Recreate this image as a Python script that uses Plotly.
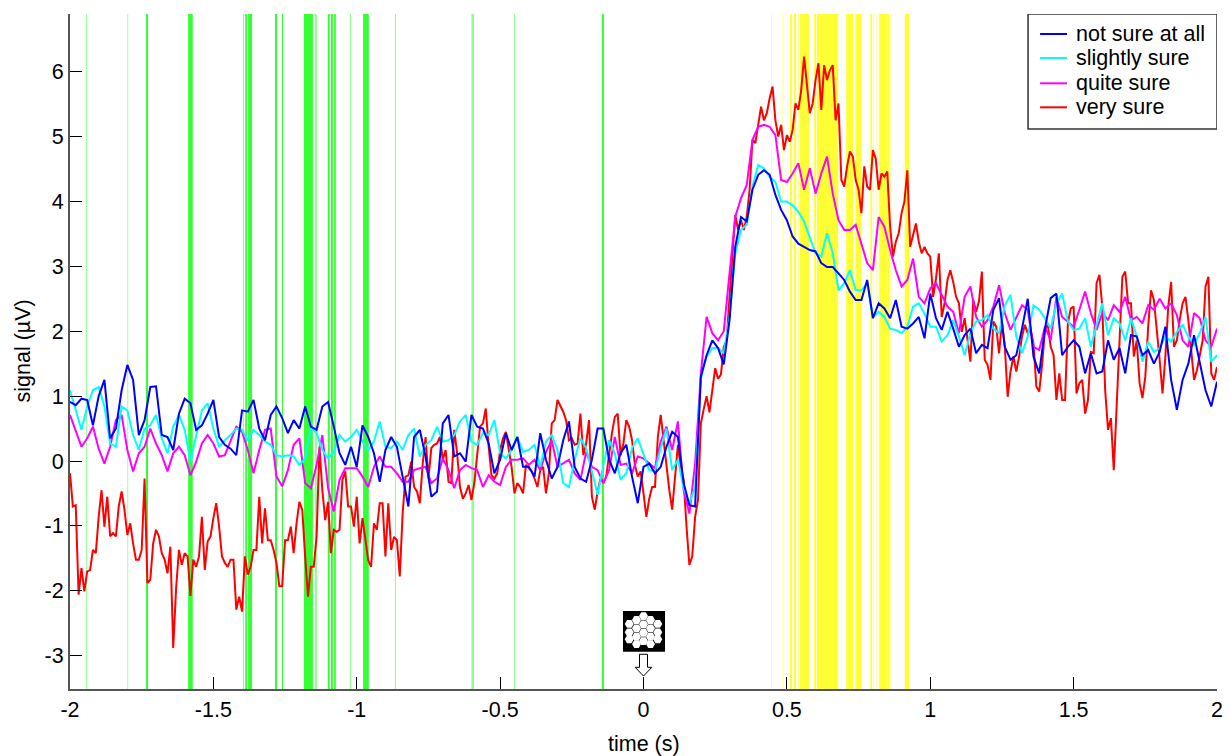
import numpy as np
import plotly.graph_objects as go

not_sure = [.91,.86,.96,.94,.55,1.0,1.25,.35,.5,1.09,1.48,1.25,.4,.63,1.14,1.15,.4,.37,.17,.73,.96,.89,.48,.55,.73,.94,.37,.25,.19,.09,.78,.76,.94,.5,.32,.71,.84,.66,.43,.63,.5,.84,.53,.48,.84,.91,.53,.12,-.06,.22,-.09,
 .55,.37,.12,-.32,.17,.37,.22,-.24,-.7,.37,.48,.07,-.55,-.47,.58,.71,.07,.12,-.01,.71,.53,.5,.27,-.19,.02,.43,.17,.37,-.09,-.09,-.24,.43,.02,-.27,-.09,.32,.61,-.09,-.27,-.32,.02,.5,.5,.02,-.19,.12,.25,-.24,-.65,-.09,-.04,-.19,-.09,.22,.45,.37,-.34,-.68,-.7,
 1.30,1.63,1.86,1.74,1.49,2.17,3.30,3.76,3.69,4.18,4.41,4.48,4.41,4.1,3.87,3.71,3.46,3.35,3.3,3.25,3.23,3.05,2.99,2.99,2.89,2.79,2.61,2.48,2.48,2.79,2.2,2.43,2.35,2.2,2.48,2.07,2.04,2.12,2.22,1.89,2.58,2.2,2.02,2.3,
 2.04,1.76,1.94,2.04,1.66,1.79,1.74,2.33,2.51,1.76,1.56,1.63,2.04,2.5,1.61,1.35,2.04,2.51,2.58,1.63,1.76,1.86,1.76,1.35,1.66,1.35,1.38,1.86,1.56,1.74,1.35,1.94,1.92,1.63,1.71,1.5,1.68,2.07,1.25,.79,1.25,1.5,1.94,1.5,1.09,.84,1.22]

slightly_sure = [1.09,.78,.48,.84,1.09,1.14,.84,.27,.22,.84,.78,.4,.17,.5,.55,.71,.35,.12,.53,.71,.48,-.01,.37,.78,.89,.5,.22,.32,.4,.5,.48,.32,.48,.4,.3,.25,.09,.07,.09,.07,-.06,.04,.53,.43,.17,.04,.14,.4,.3,.37,.48,
 .3,.17,.3,.61,.22,.2,.3,.17,.4,.5,.07,.25,.32,.53,.3,.32,.4,.61,.71,.3,.25,.43,.4,.63,.12,.04,.17,.37,.14,.17,.25,-.09,.3,.4,.17,-.34,-.4,.02,.35,.2,-.14,-.52,-.06,.32,.12,-.29,-.19,.2,.35,.12,-.14,-.16,.2,.5,-.14,.02,-.42,-.65,-.4,
 1.27,1.61,1.74,1.74,1.66,2.22,3.2,3.56,3.64,4.23,4.56,4.51,4.38,4.3,4.0,4.0,3.94,3.84,3.69,3.46,3.2,3.15,3.51,3.2,2.63,2.74,2.94,2.63,2.63,2.74,2.22,2.3,2.22,2.04,2.02,1.97,2.07,2.38,2.43,2.27,2.07,2.07,1.84,1.94,
 2.17,1.92,1.63,1.97,2.15,2.17,2.25,2.04,1.97,2.4,2.56,1.92,1.66,1.92,2.4,2.33,2.2,2.04,2.43,2.58,2.15,2.02,2.04,2.2,1.76,2.1,2.43,1.94,2.2,2.12,1.86,2.2,1.92,1.53,1.84,1.68,1.74,1.92,1.84,1.99,2.1,1.92,1.79,1.97,2.22,1.53,1.63]

quite_sure = [.71,.48,.22,.35,.53,.19,-.04,.22,.63,.71,.17,-.16,.12,.22,.5,.27,.09,-.16,.12,.22,.09,-.22,-.01,.27,.4,.27,.07,.09,.32,.53,.45,.17,-.19,.17,.48,.5,-.24,-.39,-.14,.25,.35,-.34,-.42,-.06,.4,-.42,-.78,-.29,-.11,-.11,-.11,
 -.24,-.4,-.09,.07,-.09,-.09,-.19,-.32,-.32,-.14,-.11,-.09,-.34,-.27,.04,-.14,-.42,-.14,-.06,-.11,-.14,-.4,-.22,-.32,-.37,-.09,.02,.02,.04,-.06,.02,-.14,.14,.32,-.09,-.04,.02,-.19,-.29,.14,-.09,-.14,-.34,-.14,.37,-.06,-.04,-.19,.07,.04,-.04,-.11,.3,.53,.17,.61,-.45,-.81,-.04,
 1.35,2.22,1.97,1.86,2.0,2.89,3.76,4.05,4.25,4.95,5.15,5.18,5.15,5.02,4.33,4.3,4.43,4.59,4.18,4.51,4.12,4.43,4.69,4.12,3.71,3.56,3.56,3.64,3.35,3.05,2.94,3.76,3.61,3.25,2.94,2.69,2.79,3.12,2.53,2.43,2.66,2.74,2.56,2.38,
 2.3,1.97,2.53,2.69,2.22,2.07,2.17,2.38,2.71,2.28,2.02,2.22,2.4,2.33,1.76,1.71,2.07,1.86,2.53,2.22,2.15,2.07,2.33,2.61,2.28,2.02,2.28,2.17,2.4,2.3,2.53,2.17,2.22,2.12,2.4,2.33,2.5,2.35,2.43,2.25,1.86,1.76,2.28,2.2,1.86,1.76,2.04]

very_sure = [-.19,-.7,-.68,-2.06,-1.65,-2.01,-1.7,-1.68,-1.37,-1.42,-.86,-.45,-1.01,-.55,-1.16,-1.11,-1.16,-.7,-.47,-.75,-1.14,-.96,-1.27,-1.52,-1.52,-1.37,-.27,-1.88,-1.83,-1.27,-1.06,-1.16,-1.42,-1.52,-1.73,-1.32,-2.88,-1.96,-1.37,-1.6,-1.42,-1.47,-2.08,-1.52,-1.63,-1.47,-.86,-1.68,-1.24,-1.16,-.88,-.65,-1.01,-1.47,-1.57,-1.63,-1.52,-1.52,-2.29,-2.09,-2.32,-1.47,-1.75,-1.63,-1.37,-1.37,-.55,-1.27,-.73,-1.22,-1.22,-1.37,-1.57,-1.93,-1.93,-1.22,-1.22,-1.01,-1.42,-.96,-.63,-.75,-1.47,-2.09,-1.63,-1.63,-1.16,.22,-.45,-.91,-.63,-1.42,-1.06,-1.09,-1.06,-.29,-.16,-.7,-.7,-1.01,-.55,
 -1.27,-.88,-1.19,-1.53,-1.63,-.96,-1.06,-.65,-.65,-1.47,-.65,-1.37,-1.17,-1.22,-1.78,-.81,-.24,-.22,-.01,-.4,-.47,-.65,-.04,.37,-.27,.2,.25,.27,.37,.02,.17,-.32,-.34,.48,.12,-.4,-.58,-.5,-.37,-.6,-.34,.12,.53,.58,.81,.22,-.22,-.27,-.19,.17,.35,.45,.2,-.09,-.5,-.34,-.4,-.5,-.06,-.11,-.16,-.27,-.4,-.14,-.09,-.5,-.19,.58,.63,.94,.84,.76,.63,.32,.35,.25,.27,.73,.09,.27,.63,-.55,-.75,-.47,-.27,-.34,-.24,.12,.43,.68,.73,.09,.27,.63,.53,.32,-.06,-.24,-.16,-.5,-.86,-.58,-.4,-.4,.37,.71,.3,-.09,-.45,-.75,-.29,.25,-.11,-.29,-1.01,-1.6,-1.47,-.86,-.6,
 .58,.8,1.0,.75,1.1,1.43,1.27,1.33,1.76,1.86,2.53,3.2,3.79,3.56,3.71,3.56,3.76,4.18,4.95,4.9,5.18,5.46,5.25,5.36,5.59,5.77,5.25,5.0,5.18,4.79,5.02,4.92,5.1,5.51,5.41,5.72,6.23,5.77,5.36,5.51,5.87,6.13,5.41,6.1,5.87,6.02,6.1,5.25,5.51,4.33,4.23,4.54,4.77,4.69,4.33,4.18,3.82,4.54,4.23,4.18,4.79,4.66,4.18,4.43,4.38,4.46,3.61,3.15,3.38,3.51,3.82,4.0,4.48,3.3,3.46,3.66,3.38,3.2,3.3,3.2,3.15,2.53,2.81,3.2,2.22,2.43,2.79,
 2.94,2.76,2.53,2.43,1.99,2.2,1.86,1.53,2.48,2.3,2.46,2.92,1.56,1.48,1.25,2.15,2.07,1.66,2.15,1.76,.99,1.38,1.61,1.38,1.61,1.92,2.1,1.97,2.02,1.81,1.15,1.07,1.48,2.02,2.1,1.76,1.63,.94,1.35,.94,.94,2.12,2.35,2.38,1.04,1.2,1.25,.73,.94,1.68,1.66,2.74,2.87,2.38,1.09,.48,.66,-.14,.84,1.92,2.84,2.92,2.43,2.43,1.61,1.86,1.2,.97,1.3,2.07,2.63,2.48,2.07,1.56,1.04,1.61,2.38,2.76,1.76,1.86,2.17,2.43,2.53,2.17,1.71,1.25,1.4,1.66,1.86,2.69,2.84,1.35,1.25,1.45]

green_bands = [(-1.735,-1.728),(-1.588,-1.572),(-1.389,-1.383),(-1.379,-1.365),(-1.285,-1.278),(-1.261,-1.257),
               (-1.184,-1.153),(-1.101,-1.094),(-1.090,-1.083),(-1.079,-1.073),(-.978,-.958),(-.145,-.138)]
green_thin = [(-1.944,-1.941),(-1.800,-1.797),(-1.397,-1.393),(-1.146,-1.139),(-1.024,-1.020),(-.867,-.863),(-.600,-.591),(-.452,-.448)]
yellow_bands = [(.511,.518),(.525,.532),(.546,.578),(.595,.602),(.605,.679),(.707,.731),(.739,.760),(.791,.797),(.822,.849),(.850,.857),(.911,.927)]
yellow_thin = [(.445,.448),(.484,.488),(.539,.542),(.800,.804),(.812,.815),(.861,.866)]

x_ticks = [-2,-1.5,-1,-.5,0,.5,1,1.5,2]
x_labels = ["-2","-1.5","-1","-0.5","0","0.5","1","1.5","2"]
y_ticks = [-3,-2,-1,0,1,2,3,4,5,6]
y_labels = ["-3","-2","-1","0","1","2","3","4","5","6"]

icon_x = [0,0,0,0,-.0244,-.0244,-.0244,-.0244,.0244,.0244,.0244,.0244,-.0497,-.0497,-.0497,.0497,.0497,.0497]
icon_y = [-2.39,-2.516,-2.646,-2.774,-2.45,-2.578,-2.707,-2.82,-2.45,-2.578,-2.707,-2.82,-2.51,-2.64,-2.747,-2.51,-2.64,-2.747]

legend_names = ["not sure at all", "slightly sure", "quite sure", "very sure"]
colors = ["#0000ff", "#00ffff", "#ff00ff", "#ff0000"]
legend_y = [6.58, 6.21, 5.82, 5.45]

FONT = "Liberation Sans, Arial, sans-serif"
FS = 21.5
fig = go.Figure()
all_vals = [not_sure, slightly_sure, quite_sure, very_sure]
for i in [3, 2, 1, 0]:
    vals = all_vals[i]
    fig.add_trace(go.Scatter(x=np.linspace(-2, 2, len(vals)), y=vals, mode="lines", name=legend_names[i],
                             showlegend=False, line=dict(color=colors[i], width=2)))

fig.add_trace(go.Scatter(x=icon_x, y=icon_y, mode="markers", showlegend=False, hoverinfo="skip",
                         marker=dict(symbol="hexagon2", size=9, color="white", line=dict(width=0))))

shapes = []
def bands(lst, col, op):
    for a, b in lst:
        shapes.append(dict(type="rect", xref="x", yref="paper", x0=a, x1=b, y0=0, y1=1,
                           fillcolor=col, opacity=op, line=dict(width=0), layer="below"))
bands(green_bands, "#33ff33", 1)
bands(green_thin, "#33ff33", .55)
bands(yellow_bands, "#ffff33", 1)
bands(yellow_thin, "#ffff33", .5)
shapes.append(dict(type="rect", xref="x", yref="y", x0=-.0715, x1=.075, y0=-2.94, y1=-2.31,
                   fillcolor="black", line=dict(width=0), layer="below"))
shapes.append(dict(type="path", xref="x", yref="y",
                   path="M -.014 -2.978 L .014 -2.978 L .014 -3.179 L .029 -3.179 L 0 -3.313 L -.029 -3.179 L -.014 -3.179 Z",
                   fillcolor="white", line=dict(color="black", width=1), layer="above"))
shapes.append(dict(type="rect", xref="x", yref="y", x0=1.341, x1=2.0, y0=5.116, y1=6.888,
                   fillcolor="white", line=dict(color="#333333", width=1.5), layer="above"))
annotations = []
for name, col, ly in zip(legend_names, colors, legend_y):
    shapes.append(dict(type="line", xref="x", yref="y", x0=1.383, x1=1.477, y0=ly, y1=ly,
                       line=dict(color=col, width=2), layer="above"))
    annotations.append(dict(x=1.512, y=ly, xref="x", yref="y", text=name, showarrow=False,
                            xanchor="left", yanchor="middle", xshift=-3,
                            font=dict(family=FONT, size=FS, color="black")))
annotations.append(dict(x=0, y=0, xref="x", yref="paper", yshift=-55, yanchor="middle", xanchor="center",
                        text="time (s)", showarrow=False, font=dict(family=FONT, size=FS, color="black")))
annotations.append(dict(x=0, y=.5, xref="paper", yref="paper", xshift=-48, xanchor="center", yanchor="middle",
                        text="signal (µV)", textangle=-90, showarrow=False,
                        font=dict(family=FONT, size=FS, color="black")))

fig.update_layout(
    width=1230, height=756, margin=dict(l=70, r=13, t=14, b=67, autoexpand=False),
    paper_bgcolor="white", plot_bgcolor="white", shapes=shapes, annotations=annotations, showlegend=False,
    font=dict(family=FONT, size=FS, color="black"),
)
fig.update_xaxes(range=[-2, 2], tickvals=x_ticks, ticktext=x_labels, ticks="inside", ticklen=12, tickwidth=1,
                 tickcolor="black", showgrid=False, zeroline=False, showline=True, linecolor="#555555", linewidth=2,
                 automargin=False, tickfont=dict(size=FS))
fig.update_yaxes(range=[-3.513, 6.888], tickvals=y_ticks, ticktext=y_labels, ticks="inside", ticklen=12, tickwidth=1,
                 tickcolor="black", showgrid=False, zeroline=False, showline=True, linecolor="#555555", linewidth=2,
                 automargin=False, tickfont=dict(size=FS))

fig.write_html("out.html", config=dict(displayModeBar=False),
               post_script="document.body.style.margin='0';document.documentElement.style.overflow='hidden';")
